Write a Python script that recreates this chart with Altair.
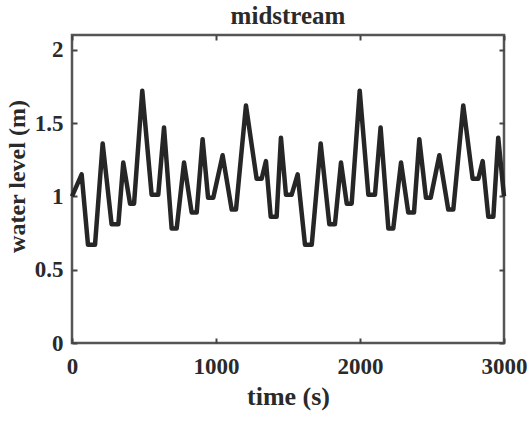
import altair as alt
import pandas as pd

time_s = [0, 67, 111, 160, 213, 275, 322, 356, 403, 431, 488, 553, 599, 639, 692, 727,
          778, 831, 866, 907, 945, 981, 1046, 1109, 1139, 1208, 1282, 1317, 1347, 1380,
          1421, 1451, 1486, 1525, 1567, 1618, 1665, 1727, 1787, 1826, 1868, 1908, 1942,
          1998, 2058, 2104, 2143, 2197, 2231, 2285, 2335, 2375, 2412, 2458, 2491, 2551,
          2613, 2648, 2717, 2782, 2822, 2852, 2891, 2926, 2960, 3000]
water_level = [1.00, 1.15, 0.67, 0.67, 1.36, 0.81, 0.81, 1.23, 0.95, 0.95, 1.72, 1.01,
               1.01, 1.47, 0.78, 0.78, 1.23, 0.89, 0.89, 1.39, 0.99, 0.99, 1.28, 0.91,
               0.91, 1.62, 1.12, 1.12, 1.24, 0.86, 0.86, 1.40, 1.01, 1.01, 1.15, 0.67,
               0.67, 1.36, 0.81, 0.81, 1.23, 0.95, 0.95, 1.72, 1.01, 1.01, 1.47, 0.78,
               0.78, 1.23, 0.89, 0.89, 1.39, 0.99, 0.99, 1.28, 0.91, 0.91, 1.62, 1.12,
               1.12, 1.24, 0.86, 0.86, 1.40, 1.00]
x_ticks = [0, 1000, 2000, 3000]
y_ticks = [0, 0.5, 1, 1.5, 2]

df = pd.DataFrame({"t": time_s, "h": water_level})
FONT = "Liberation Serif"
TICK_COLOR = "#444444"
TEXT_COLOR = "#2a2a2a"

base = alt.Chart(df)

main = base.mark_line(color="#262626", strokeWidth=4.5, strokeJoin="round").encode(
    x=alt.X("t:Q", scale=alt.Scale(domain=[0, 3000], nice=False, zero=False),
            axis=alt.Axis(orient="bottom", values=x_ticks, format="d", title="time (s)",
                          grid=False, domain=False, tickSize=5, offset=-5,
                          tickColor=TICK_COLOR, tickWidth=2, labelFlush=False,
                          labelPadding=12, labelFont=FONT, labelFontSize=23,
                          labelFontWeight="bold", labelColor=TEXT_COLOR,
                          titleFont=FONT, titleFontSize=26, titleFontWeight="bold",
                          titleColor=TEXT_COLOR, titlePadding=5)),
    y=alt.Y("h:Q", scale=alt.Scale(domain=[0, 2.1], nice=False),
            axis=alt.Axis(orient="left", values=y_ticks, format="~g", title="water level (m)",
                          grid=False, domain=False, tickSize=5, offset=-5,
                          tickColor=TICK_COLOR, tickWidth=2, labelFlush=False,
                          labelPadding=9, labelFont=FONT, labelFontSize=23,
                          labelFontWeight="bold", labelColor=TEXT_COLOR,
                          titleFont=FONT, titleFontSize=24, titleFontWeight="bold",
                          titleColor=TEXT_COLOR, titlePadding=5, titleY=141)),
)

mirror = base.mark_line(opacity=0).encode(
    x=alt.X("t:Q", axis=alt.Axis(orient="top", values=x_ticks, labels=False, title=None,
                                 grid=False, domain=False, tickSize=5, offset=-5,
                                 tickColor=TICK_COLOR, tickWidth=2)),
    y=alt.Y("h:Q", axis=alt.Axis(orient="right", values=y_ticks, labels=False, title=None,
                                 grid=False, domain=False, tickSize=5, offset=-5,
                                 tickColor=TICK_COLOR, tickWidth=2)),
)

chart = alt.layer(main, mirror).resolve_axis(x="independent", y="independent").properties(
    width=432, height=308,
    autosize=alt.AutoSizeParams(type="none"),
    padding={"left": 72, "top": 35, "right": 28, "bottom": 78},
    title=alt.TitleParams("midstream", font=FONT, fontSize=25, fontWeight="bold",
                          color=TEXT_COLOR, offset=5),
    background="white",
).configure_view(stroke="#555555", strokeWidth=2.5)

chart.save("out.html", embed_options={"renderer": "svg", "actions": False})
